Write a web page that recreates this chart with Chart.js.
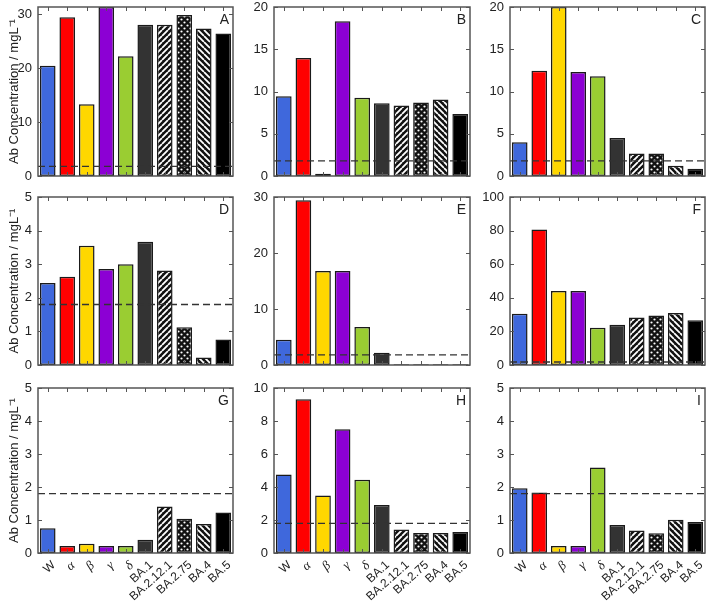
<!DOCTYPE html>
<html>
<head>
<meta charset="utf-8">
<script src="https://cdn.jsdelivr.net/npm/chart.js@4"></script>
<style>
body { margin: 0; background: #fff; width: 709px; height: 606px; position: relative; overflow: hidden; }
canvas { position: absolute; }
</style>
</head>
<body>
<canvas id="pA"></canvas><canvas id="pB"></canvas><canvas id="pC"></canvas>
<canvas id="pD"></canvas><canvas id="pE"></canvas><canvas id="pF"></canvas>
<canvas id="pG"></canvas><canvas id="pH"></canvas><canvas id="pI"></canvas>
<script>
// variants
const variants = ['W', 'α', 'β', 'γ', 'δ', 'BA.1', 'BA.2.12.1', 'BA.2.75', 'BA.4', 'BA.5'];

// Ab concentration (mg/L) per panel
const panelA = [20.4, 29.4, 13.3, 31.3, 22.2, 28.0, 28.0, 29.8, 27.3, 26.4];
const panelB = [9.45, 13.95, 0.28, 18.3, 9.25, 8.6, 8.35, 8.7, 9.05, 7.35];
const panelC = [4.0, 12.45, 20.0, 12.3, 11.8, 4.5, 2.65, 2.65, 1.2, 0.87];
const panelD = [2.44, 2.63, 3.55, 2.86, 3.0, 3.67, 2.81, 1.12, 0.22, 0.76];
const panelE = [4.5, 29.4, 16.8, 16.8, 6.8, 2.2, 0.15, 0.15, 0.15, 0.15];
const panelF = [30.5, 80.7, 44.1, 44.1, 22.2, 24.0, 28.3, 29.5, 30.9, 26.6];
const panelG = [0.75, 0.21, 0.28, 0.21, 0.21, 0.4, 1.41, 1.04, 0.88, 1.23];
const panelH = [4.76, 9.32, 3.49, 7.5, 4.44, 2.91, 1.43, 1.21, 1.21, 1.27];
const panelI = [1.96, 1.83, 0.21, 0.21, 2.59, 0.85, 0.68, 0.6, 1.01, 0.94];

// y axis ranges and tick steps, A..I
const yMax = [31.3, 20, 20, 5, 30, 100, 5, 10, 5];
const yStep = [10, 5, 5, 1, 10, 20, 1, 2, 1];
const threshold = 1.8;

// layout (px)
const colLeft = [0, 240, 476];
const colWidth = [236, 233, 233];
const yAxisWidth = [38, 34, 34];
const rightPad = [3, 3, 4];
const rowTop = [0, 189, 380];
const rowHeight = [183, 183, 226];
const topPad = [7, 8, 8];
const bottomPad = [7, 7, 0];
const xAxisHeight = [0, 0, 53];

function makePattern(kind) {
  const s = 6;
  const c = document.createElement('canvas');
  c.width = s; c.height = s;
  const g = c.getContext('2d');
  g.fillStyle = '#111';
  g.fillRect(0, 0, s, s);
  g.strokeStyle = '#fff';
  g.fillStyle = '#fff';
  if (kind === 'dots') {
    [[1.5, 1.5], [4.5, 4.5]].forEach(([px, py]) => {
      g.beginPath();
      g.arc(px, py, 1.1, 0, Math.PI * 2);
      g.fill();
    });
  } else {
    g.lineWidth = 1.8;
    g.beginPath();
    for (let k = -1; k <= 1; k++) {
      if (kind === 'fwd') { g.moveTo(k * s, s); g.lineTo(k * s + s, 0); }
      else { g.moveTo(k * s, 0); g.lineTo(k * s + s, s); }
    }
    g.stroke();
  }
  return g.createPattern(c, 'repeat');
}

const barColors = ['#3f68dc', '#ff0000', '#ffd700', '#8c00d4', '#9acd32', '#333333',
  makePattern('fwd'), makePattern('dots'), makePattern('back'), '#000000'];

const overlay = {
  id: 'overlay',
  afterDraw(chart, args, opts) {
    const { ctx, chartArea: a } = chart;
    const x = chart.scales.x, y = chart.scales.y;
    ctx.save();
    // threshold line
    const ty = y.getPixelForValue(threshold);
    ctx.setLineDash([7, 4]);
    ctx.strokeStyle = '#333';
    ctx.lineWidth = 1.3;
    ctx.beginPath();
    ctx.moveTo(a.left, ty);
    ctx.lineTo(a.right, ty);
    ctx.stroke();
    ctx.setLineDash([]);
    // inward ticks
    ctx.strokeStyle = '#555';
    ctx.lineWidth = 1;
    ctx.beginPath();
    y.ticks.forEach(t => {
      const py = Math.round(y.getPixelForValue(t.value)) + 0.5;
      ctx.moveTo(a.left, py); ctx.lineTo(a.left + 4, py);
      ctx.moveTo(a.right, py); ctx.lineTo(a.right - 4, py);
    });
    x.ticks.forEach((t, i) => {
      const px = Math.round(x.getPixelForTick(i)) + 0.5;
      ctx.moveTo(px, a.bottom); ctx.lineTo(px, a.bottom - 4);
      ctx.moveTo(px, a.top); ctx.lineTo(px, a.top + 4);
    });
    ctx.stroke();
    // frame
    ctx.strokeStyle = '#555';
    ctx.lineWidth = 1.5;
    ctx.strokeRect(a.left, a.top, a.width, a.height);
    // panel letter
    ctx.fillStyle = '#222';
    ctx.font = '14px "Liberation Sans", Arial, sans-serif';
    ctx.textAlign = 'right';
    ctx.textBaseline = 'top';
    ctx.fillText(opts.letter, a.right - 4, a.top + 6);
    ctx.restore();
  }
};

const panels = [
  { id: 'pA', letter: 'A', data: panelA },
  { id: 'pB', letter: 'B', data: panelB },
  { id: 'pC', letter: 'C', data: panelC },
  { id: 'pD', letter: 'D', data: panelD },
  { id: 'pE', letter: 'E', data: panelE },
  { id: 'pF', letter: 'F', data: panelF },
  { id: 'pG', letter: 'G', data: panelG },
  { id: 'pH', letter: 'H', data: panelH },
  { id: 'pI', letter: 'I', data: panelI },
];

panels.forEach((p, n) => {
  const col = n % 3, row = Math.floor(n / 3);
  const cv = document.getElementById(p.id);
  cv.width = colWidth[col];
  cv.height = rowHeight[row];
  cv.style.left = colLeft[col] + 'px';
  cv.style.top = rowTop[row] + 'px';

  new Chart(cv.getContext('2d'), {
    type: 'bar',
    data: {
      labels: variants,
      datasets: [{
        data: p.data,
        backgroundColor: barColors,
        borderColor: '#1a1a1a',
        borderWidth: 1.5,
        borderSkipped: false,
        barPercentage: 0.8,
        categoryPercentage: 1.0,
      }],
    },
    options: {
      responsive: false,
      animation: false,
      devicePixelRatio: 1,
      layout: { padding: { left: 0, right: rightPad[col], top: topPad[row], bottom: bottomPad[row] } },
      plugins: {
        legend: { display: false },
        tooltip: { enabled: false },
        overlay: { letter: p.letter },
      },
      scales: {
        x: {
          grid: { display: false, drawTicks: false },
          border: { display: false },
          ticks: {
            display: row === 2,
            autoSkip: false,
            minRotation: 42,
            maxRotation: 42,
            padding: 5,
            labelOffset: 6,
            color: '#222',
            font: (ctx) => (ctx.index >= 1 && ctx.index <= 4)
              ? { family: '"Liberation Serif", serif', style: 'italic', size: 13 }
              : { family: '"Liberation Sans", Arial, sans-serif', size: 12 },
          },
          afterFit: (s) => { s.height = xAxisHeight[row]; s.paddingLeft = 0; s.paddingRight = 0; },
        },
        y: {
          min: 0,
          max: yMax[n],
          grid: { display: false, drawTicks: false },
          border: { display: false },
          ticks: {
            stepSize: yStep[n],
            includeBounds: false,
            padding: 6,
            color: '#222',
            font: { family: '"Liberation Sans", Arial, sans-serif', size: 13 },
          },
          title: {
            display: col === 0,
            text: 'Ab Concentration / mgL⁻¹',
            color: '#222',
            font: { family: '"Liberation Sans", Arial, sans-serif', size: 13 },
            padding: { top: 7, bottom: 0 },
          },
          afterFit: (s) => { s.width = yAxisWidth[col]; s.paddingTop = 0; s.paddingBottom = 0; },
        },
      },
    },
    plugins: [overlay],
  });
});
</script>
</body>
</html>
